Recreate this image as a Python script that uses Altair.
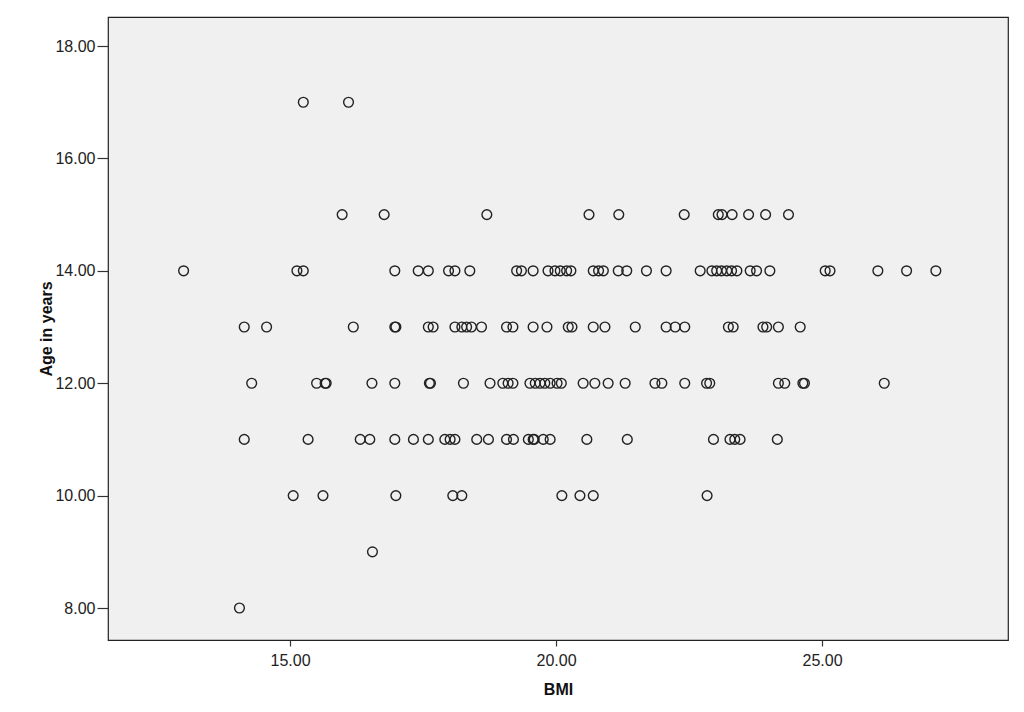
import altair as alt
import pandas as pd

# BMI values read for each age row
bmi_age8 = [14.05]
bmi_age9 = [16.55]
bmi_age10 = [15.06, 15.62, 16.99, 18.06, 18.23, 20.11, 20.45, 20.70, 22.84]
bmi_age11 = [14.14, 15.34, 16.32, 16.50, 16.97, 17.32, 17.60, 17.91, 18.01, 18.10,
             18.51, 18.73, 19.07, 19.20, 19.48, 19.57, 19.59, 19.76, 19.89, 20.58,
             21.34, 22.96, 23.27, 23.36, 23.46, 24.16]
bmi_age12 = [14.28, 15.50, 15.66, 15.68, 16.54, 16.97, 17.62, 17.64, 18.26, 18.76,
             19.00, 19.10, 19.19, 19.51, 19.61, 19.70, 19.79, 19.89, 20.02, 20.10,
             20.51, 20.73, 20.98, 21.30, 21.86, 21.99, 22.42, 22.83, 22.89, 24.18,
             24.30, 24.64, 24.67, 26.17]
bmi_age13 = [14.14, 14.56, 16.19, 16.97, 16.99, 17.60, 17.69, 18.10, 18.23, 18.32,
             18.41, 18.60, 19.07, 19.19, 19.57, 19.83, 20.23, 20.30, 20.70, 20.92,
             21.49, 22.07, 22.24, 22.42, 23.24, 23.33, 23.89, 23.96, 24.18, 24.59]
bmi_age14 = [13.00, 15.13, 15.25, 16.97, 17.41, 17.60, 17.98, 18.10, 18.38, 19.26,
             19.35, 19.57, 19.85, 19.98, 20.08, 20.20, 20.28, 20.70, 20.80, 20.89,
             21.17, 21.33, 21.70, 22.07, 22.71, 22.93, 23.02, 23.11, 23.21, 23.30,
             23.40, 23.65, 23.77, 24.02, 25.06, 25.15, 26.05, 26.59, 27.14]
bmi_age15 = [15.98, 16.77, 18.70, 20.62, 21.18, 22.41, 23.05, 23.12, 23.31, 23.62,
             23.94, 24.37]
bmi_age17 = [15.25, 16.10]

rows = {8: bmi_age8, 9: bmi_age9, 10: bmi_age10, 11: bmi_age11, 12: bmi_age12,
        13: bmi_age13, 14: bmi_age14, 15: bmi_age15, 17: bmi_age17}

x_ticks = [15, 20, 25]
y_ticks = [8, 10, 12, 14, 16, 18]

records = []
for age, vals in rows.items():
    for b in vals:
        records.append({"BMI": b, "Age": age})
df = pd.DataFrame(records)

font = "Liberation Sans"

chart = alt.Chart(df).mark_point(
    shape="circle", filled=False, stroke="#222222", strokeWidth=1.4, size=95, opacity=1
).encode(
    x=alt.X("BMI:Q",
            scale=alt.Scale(domain=[11.579, 28.496], nice=False, zero=False),
            axis=alt.Axis(values=x_ticks, format=".2f", title="BMI", grid=False,
                          domain=False, tickSize=6, tickColor="#333333", tickWidth=1.2,
                          labelFontSize=16, labelColor="#222222", labelPadding=6,
                          titleFontSize=16, titleFontWeight="bold", titlePadding=13,
                          titleColor="#111111")),
    y=alt.Y("Age:Q",
            scale=alt.Scale(domain=[7.431, 18.516], nice=False, zero=False),
            axis=alt.Axis(values=y_ticks, format=".2f", title="Age in years", grid=False,
                          domain=False, tickSize=11, tickColor="#333333", tickWidth=1.2,
                          labelFontSize=16, labelColor="#222222", labelPadding=2,
                          titleFontSize=16, titleFontWeight="bold", titlePadding=0,
                          titleColor="#111111")),
).properties(
    width=900, height=623,
    autosize=alt.AutoSizeParams(type="none"),
    padding={"left": 100, "top": 9, "right": 8, "bottom": 64},
    background="white",
).configure_view(
    fill="#F0F0F0", stroke="#222222", strokeWidth=1.2
).configure_axis(
    labelFont=font, titleFont=font
)

chart.save("out.html", embed_options={"renderer": "svg", "actions": False})
